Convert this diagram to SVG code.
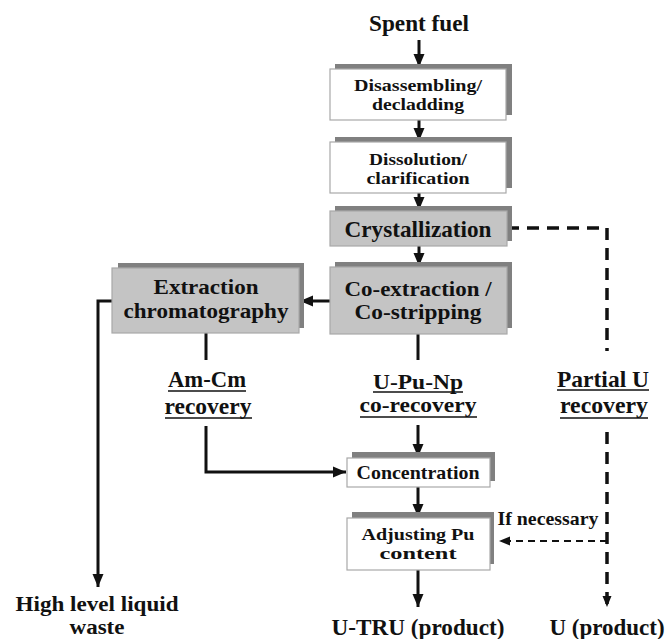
<svg xmlns="http://www.w3.org/2000/svg" width="666" height="639" viewBox="0 0 666 639">
<style>
text{font-family:"Liberation Serif","DejaVu Serif","Times New Roman",serif;font-weight:bold;fill:#111;text-anchor:middle}
.big{font-size:23px}
.mid{font-size:20.5px}
.sm{font-size:17px}
.one{font-size:19.5px}
.shadow{fill:#808080}
.wbox{fill:#fff;stroke:#a8a8a8;stroke-width:1.2}
.gbox{fill:#c4c4c4;stroke:#a8a8a8;stroke-width:1.2}
.ln{fill:none;stroke:#111;stroke-width:3}
.dash{fill:none;stroke:#111;stroke-width:3.5;stroke-dasharray:12 8}
.dash2{fill:none;stroke:#111;stroke-width:2.2;stroke-dasharray:7 5}
.ul{stroke:#111;stroke-width:1.5}
</style>
<defs>
<marker id="ah" markerUnits="userSpaceOnUse" markerWidth="14" markerHeight="14" viewBox="0 0 14 14" refX="13" refY="7" orient="auto">
<path d="M0,1.5 L13,7 L0,12.5 Z" fill="#111"/>
</marker>
<marker id="ahs" markerUnits="userSpaceOnUse" markerWidth="12" markerHeight="12" viewBox="0 0 12 12" refX="11" refY="6" orient="auto">
<path d="M0,1.5 L11,6 L0,10.5 Z" fill="#111"/>
</marker>
</defs>

<g id="connectors">
<path class="ln" d="M419,40 V67" marker-end="url(#ah)"/>
<path class="ln" d="M419,120 V141" marker-end="url(#ah)"/>
<path class="ln" d="M419,193 V210" marker-end="url(#ah)"/>
<path class="ln" d="M419,246 V266" marker-end="url(#ah)"/>
<path class="ln" d="M330,301 H300" marker-end="url(#ah)"/>
<path class="ln" d="M112,301 H98 V587" marker-end="url(#ah)"/>
<path class="ln" d="M206,333 V360"/>
<path class="ln" d="M206,426 V472 H346" marker-end="url(#ah)"/>
<path class="ln" d="M418,334 V360"/>
<path class="ln" d="M418,425 V457" marker-end="url(#ah)"/>
<path class="ln" d="M418,487 V517" marker-end="url(#ah)"/>
<path class="ln" d="M418,570 V607" marker-end="url(#ah)"/>
<path class="dash" d="M507,228 H607 V351"/>
<path class="dash" d="M607,432 V607" marker-end="url(#ahs)"/>
<path class="dash2" d="M607,541 H499" marker-end="url(#ahs)"/>
</g>

<g id="spent-fuel"><text class="big" x="419" y="31" textLength="100" lengthAdjust="spacingAndGlyphs">Spent fuel</text></g>

<g id="disassembling">
<rect class="shadow" x="335" y="64" width="177" height="51"/>
<rect class="wbox" x="330" y="69" width="176" height="51"/>
<text class="sm" x="418" y="91" textLength="128" lengthAdjust="spacingAndGlyphs">Disassembling/</text>
<text class="sm" x="418" y="110" textLength="92" lengthAdjust="spacingAndGlyphs">decladding</text>
</g>

<g id="dissolution">
<rect class="shadow" x="335" y="137" width="177" height="51"/>
<rect class="wbox" x="330" y="142" width="176" height="51"/>
<text class="sm" x="418" y="165" textLength="98" lengthAdjust="spacingAndGlyphs">Dissolution/</text>
<text class="sm" x="418" y="184" textLength="103" lengthAdjust="spacingAndGlyphs">clarification</text>
</g>

<g id="crystallization">
<rect class="shadow" x="335" y="206" width="177" height="35"/>
<rect class="gbox" x="330" y="211" width="177" height="35"/>
<text class="big" x="418" y="237" textLength="147" lengthAdjust="spacingAndGlyphs">Crystallization</text>
</g>

<g id="coextraction">
<rect class="shadow" x="335" y="262" width="177" height="66"/>
<rect class="gbox" x="330" y="267" width="177" height="67"/>
<text class="mid" x="418" y="296" textLength="147" lengthAdjust="spacingAndGlyphs">Co-extraction /</text>
<text class="mid" x="418" y="319" textLength="127" lengthAdjust="spacingAndGlyphs">Co-stripping</text>
</g>

<g id="extraction">
<rect class="shadow" x="118" y="263" width="186" height="65"/>
<rect class="gbox" x="112" y="268" width="187" height="65"/>
<text class="mid" x="206" y="294" textLength="105" lengthAdjust="spacingAndGlyphs">Extraction</text>
<text class="mid" x="206" y="318" textLength="165" lengthAdjust="spacingAndGlyphs">chromatography</text>
</g>

<g id="amcm">
<text class="big" x="207" y="387" textLength="78" lengthAdjust="spacingAndGlyphs">Am-Cm</text>
<text class="big" x="208" y="414" textLength="87" lengthAdjust="spacingAndGlyphs">recovery</text>
<line class="ul" x1="168" y1="391" x2="246" y2="391"/>
<line class="ul" x1="165" y1="418" x2="252" y2="418"/>
</g>

<g id="upunp">
<text class="mid" x="418" y="389" textLength="90" lengthAdjust="spacingAndGlyphs">U-Pu-Np</text>
<text class="mid" x="418" y="412" textLength="117" lengthAdjust="spacingAndGlyphs">co-recovery</text>
<line class="ul" x1="373" y1="392" x2="463" y2="392"/>
<line class="ul" x1="360" y1="417" x2="477" y2="417"/>
</g>

<g id="partialu">
<text class="big" x="603" y="387" textLength="92" lengthAdjust="spacingAndGlyphs">Partial U</text>
<text class="big" x="604" y="413" textLength="88" lengthAdjust="spacingAndGlyphs">recovery</text>
<line class="ul" x1="557" y1="390" x2="649" y2="390"/>
<line class="ul" x1="560" y1="418" x2="648" y2="418"/>
</g>

<g id="concentration">
<rect class="shadow" x="352" y="452" width="143" height="29"/>
<rect class="wbox" x="347" y="458" width="143" height="29"/>
<text class="one" x="418" y="479" textLength="123" lengthAdjust="spacingAndGlyphs">Concentration</text>
</g>

<g id="adjusting">
<rect class="shadow" x="352" y="512" width="142" height="52"/>
<rect class="wbox" x="347" y="518" width="143" height="52"/>
<text class="sm" x="418" y="540" textLength="113" lengthAdjust="spacingAndGlyphs">Adjusting Pu</text>
<text class="sm" x="418" y="559" textLength="77" lengthAdjust="spacingAndGlyphs">content</text>
</g>

<g id="if-necessary"><text class="one" x="548" y="525" textLength="101" lengthAdjust="spacingAndGlyphs">If necessary</text></g>

<g id="hllw">
<text class="mid" x="97" y="611" textLength="163" lengthAdjust="spacingAndGlyphs">High level liquid</text>
<text class="mid" x="97" y="634" textLength="55" lengthAdjust="spacingAndGlyphs">waste</text>
</g>

<g id="utru"><text class="big" x="418" y="635" textLength="173" lengthAdjust="spacingAndGlyphs">U-TRU (product)</text></g>
<g id="uproduct"><text class="big" x="607" y="635">U (product)</text></g>
</svg>
